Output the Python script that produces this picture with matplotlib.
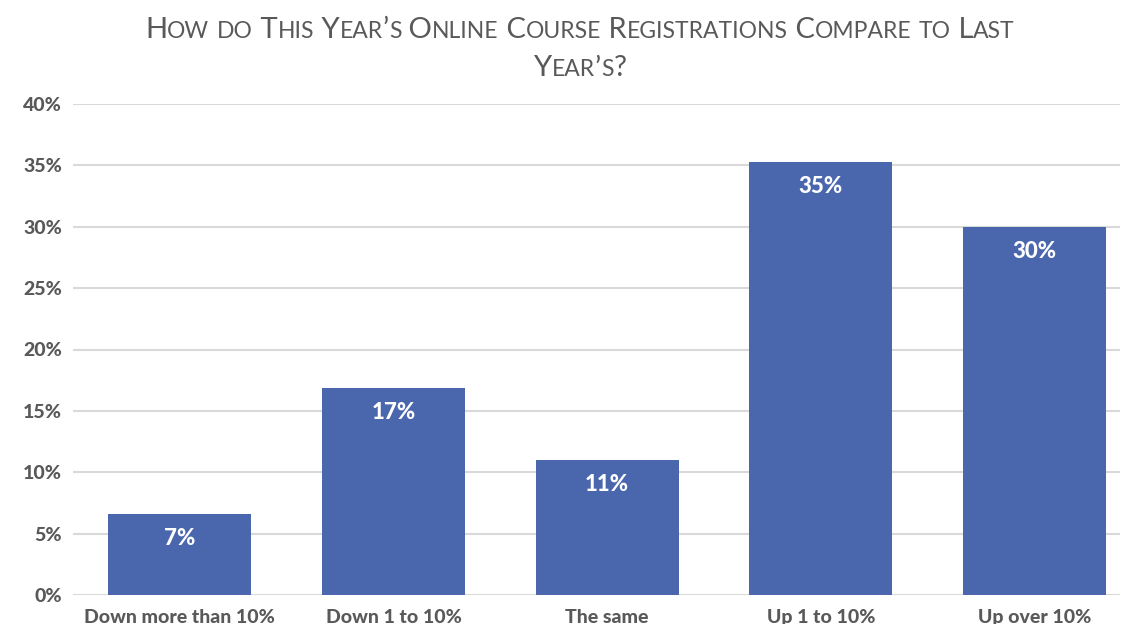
import matplotlib
matplotlib.use("Agg")
import matplotlib.pyplot as plt
from matplotlib.offsetbox import TextArea, HPacker, VPacker, AnchoredOffsetbox

categories = ["Down more than 10%", "Down 1 to 10%", "The same", "Up 1 to 10%", "Up over 10%"]
values = [6.6, 16.9, 11.0, 35.3, 30.0]
value_labels = ["7%", "17%", "11%", "35%", "30%"]
yticks = [0, 5, 10, 15, 20, 25, 30, 35, 40]
title_lines = ["How do This Year’s Online Course Registrations Compare to Last", "Year’s?"]

BAR = "#4a67ae"
GRAY = "#595959"
FONT = "Lato"


def small_caps(line, big=21, small=16.5):
    # 대문자는 큰 글씨, 소문자는 대문자로 바꿔 작은 글씨 -> small caps 흉내
    runs = []
    for ch in line:
        is_small = ch.islower()
        if runs and runs[-1][1] == is_small:
            runs[-1][0] += ch
        else:
            runs.append([ch, is_small])
    boxes = []
    for txt, is_small in runs:
        boxes.append(TextArea(txt.upper(), textprops=dict(
            fontsize=small if is_small else big, color=GRAY, family=FONT)))
    return HPacker(children=boxes, align="baseline", pad=0, sep=0)


fig = plt.figure(figsize=(11.32, 6.24), dpi=100)
ax = fig.add_axes([73 / 1132, 29 / 624, (1120 - 73) / 1132, (595 - 104) / 624])

x = range(len(categories))
bars = ax.bar(x, values, width=0.67, color=BAR, zorder=3)
for b, lab in zip(bars, value_labels):
    ax.text(b.get_x() + b.get_width() / 2, b.get_height() - 2.0, lab,
            ha="center", va="center", color="white", fontsize=16,
            fontweight="black", family=FONT, zorder=4)

ax.set_ylim(0, 40)
ax.set_xlim(-0.5, 4.4)
ax.set_yticks(yticks)
ax.set_yticklabels([f"{t}%" for t in yticks], fontsize=14, fontweight="black",
                   color=GRAY, family=FONT)
ax.set_xticks(list(x))
ax.set_xticklabels(categories, fontsize=14, fontweight="black", color=GRAY, family=FONT)
ax.tick_params(axis="both", length=0)
ax.tick_params(axis="y", pad=8)
ax.tick_params(axis="x", pad=10)
ax.grid(axis="y", color="#d9d9d9", linewidth=1.5, zorder=0)
for s in ax.spines.values():
    s.set_visible(False)

title = VPacker(children=[small_caps(l) for l in title_lines], align="center", pad=0, sep=9)
anch = AnchoredOffsetbox(loc="upper center", child=title, frameon=False,
                         bbox_to_anchor=(580 / 1132, 1 - 17 / 624),
                         bbox_transform=fig.transFigure, borderpad=0, pad=0)
fig.add_artist(anch)

fig.savefig("out.png", dpi=100)
